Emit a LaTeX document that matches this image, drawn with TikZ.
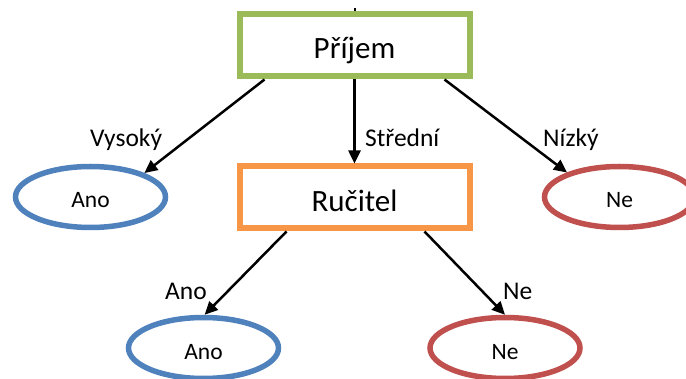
\documentclass[tikz,border=0pt]{standalone}
\usepackage{fontspec}
\setmainfont{Carlito}
\usetikzlibrary{shapes.geometric,arrows.meta}
\definecolor{okGreen}{HTML}{9BBB59}
\definecolor{okOrange}{HTML}{F79646}
\definecolor{okBlue}{HTML}{4F81BD}
\definecolor{okRed}{HTML}{C0504D}
\tikzset{
  attrbox/.style={draw, line width=6pt, fill=white, minimum width=230pt,
    minimum height=62pt, inner sep=0pt, font=\fontsize{31}{31}\selectfont,
    text depth=0pt},
  leaf/.style={ellipse, draw, line width=5.5pt, fill=white, minimum width=150pt,
    minimum height=61pt, inner sep=0pt, font=\fontsize{23.5}{23.5}\selectfont,
    text depth=0pt},
  yesleaf/.style={leaf, draw=okBlue},
  noleaf/.style={leaf, draw=okRed},
  edge/.style={line width=2.5pt, -{Triangle[length=13pt,width=12pt]}},
  edgelabel/.style={anchor=base west, inner sep=0pt, font=\fontsize{25.5}{25.5}\selectfont}
}
\begin{document}
\begin{tikzpicture}[x=1pt, y=-1pt]
  \useasboundingbox (0,0) rectangle (686,379);
  \clip (0,0) rectangle (686,379);

  % decision nodes
  \node[attrbox, draw=okGreen, text height=27pt] (prijem) at (354.5,45.5) {Příjem};
  \node[attrbox, draw=okOrange, text height=28pt] (rucitel) at (354.5,197.5) {Ručitel};

  % leaves
  \node[yesleaf, text height=22pt] (ano1) at (90.5,197) {Ano};
  \node[noleaf, text height=22pt] (ne1) at (619.5,197) {Ne};
  \node[yesleaf, text height=23pt] (ano2) at (203.5,348) {Ano};
  \node[noleaf, text height=23pt] (ne2) at (505,348) {Ne};

  % stub above the root
  \coordinate (stub) at (354.5,8);
  \draw[line width=2pt] (stub) -- (prijem.north);

  % branches
  \draw[edge] ([xshift=-90pt]prijem.south) -- (ano1.24);
  \draw[edge] (prijem.south) -- (rucitel.north);
  \draw[edge] ([xshift=90pt]prijem.south) -- (ne1.155);
  \draw[edge] ([xshift=-68pt]rucitel.south) -- (ano2.88);
  \draw[edge] ([xshift=70pt]rucitel.south) -- (ne2.90);

  % branch labels
  \node[edgelabel] (lv) at (90,147) {Vysoký};
  \node[edgelabel] (ls) at (365,147) {Střední};
  \node[edgelabel] (ln) at (543,147) {Nízký};
  \node[edgelabel] (la) at (165,300) {Ano};
  \node[edgelabel] (le) at (503,300) {Ne};
\end{tikzpicture}
\end{document}
